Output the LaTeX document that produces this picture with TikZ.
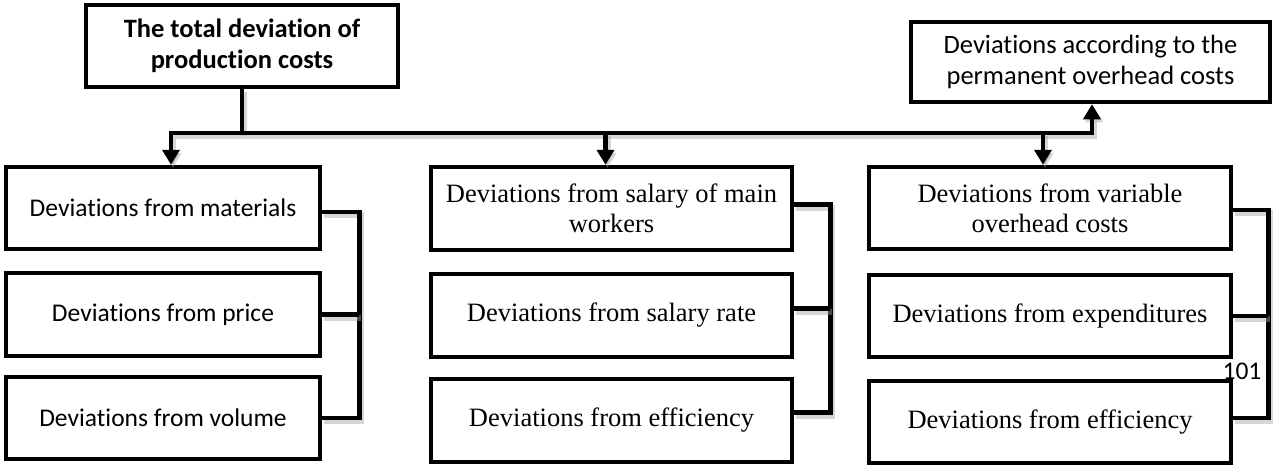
\documentclass[tikz,border=0pt]{standalone}
\usepackage{fontspec}
\newfontfamily\calfont[Ligatures=NoCommon]{Carlito}
\newfontfamily\timesfont[Ligatures=NoCommon]{Liberation Serif}
\usetikzlibrary{arrows.meta}
\begin{document}
\begin{tikzpicture}[x=1pt,y=-1pt,
  box/.style={draw=black, line width=4.5pt, fill=white, align=center, inner sep=0pt},
  calbox/.style={box, font=\calfont\fontsize{25.5}{31}\selectfont},
  tmsbox/.style={box, font=\timesfont\fontsize{26.5}{30}\selectfont},
  conn/.style={line width=4.5pt,
    preaction={draw=black!35, line width=6pt, opacity=0.45,
      transform canvas={shift={(2pt,-3pt)}}}},
  tip/.style={-{Triangle[width=17pt,length=15pt]}},
  tips/.style={{Triangle[width=17pt,length=15pt]}-{Triangle[width=17pt,length=15pt]}},
]
\fill[white] (0,0) rectangle (1274,466);
\useasboundingbox (0,0) rectangle (1274,466);

% head of the chart and the fixed-overhead box
\node[box, font=\calfont\bfseries\fontsize{26.5}{31}\selectfont,
      minimum width=312pt, minimum height=82pt] (total) at (242,46)
      {The total deviation of\\production costs};
\node[calbox, font=\calfont\fontsize{26.5}{31}\selectfont,
      minimum width=359pt, minimum height=80pt] (perm) at (1090.5,62)
      {Deviations according to the\\permanent overhead costs};

% materials column
\node[calbox, minimum width=314pt, minimum height=82pt] (mat)    at (163,208)   {Deviations from materials};
\node[calbox, minimum width=314pt, minimum height=83pt] (price)  at (163,314.5) {Deviations from price};
\node[calbox, minimum width=314pt, minimum height=82pt] (volume) at (163,418)   {Deviations from volume};

% wages column
\node[tmsbox, minimum width=361pt, minimum height=83pt] (salary) at (611.5,208.5) {Deviations from salary of main\\workers};
\node[tmsbox, minimum width=361pt, minimum height=83pt] (rate)   at (611.5,315.5) {Deviations from salary rate};
\node[tmsbox, minimum width=361pt, minimum height=83pt] (effB)   at (611.5,420.5) {Deviations from efficiency};

% variable overhead column
\node[tmsbox, minimum width=362pt, minimum height=82pt] (varoh)  at (1050,208) {Deviations from variable\\overhead costs};
\node[tmsbox, minimum width=362pt, minimum height=82pt] (expend) at (1050,316) {Deviations from expenditures};
\node[tmsbox, minimum width=362pt, minimum height=82pt] (effC)   at (1050,422) {Deviations from efficiency};

\node[font=\calfont\fontsize{25.5}{30}\selectfont, anchor=base, inner sep=0pt] (pageno) at (1242,379) {101};

% distribution bus
\coordinate (busL) at (171,133);
\coordinate (busR) at (1092,133);
\coordinate (sdrop) at ([xshift=-6pt]salary.north);
\coordinate (vdrop) at ([xshift=-7pt]varoh.north);

\draw[conn] (total.south) -- (total.south |- busL);
\draw[conn, tips] (busL |- mat.north) -- (busL) -- (busR) -- (busR |- perm.south);
\draw[conn, tip] (sdrop |- busL) -- (sdrop);
\draw[conn, tip] (vdrop |- busL) -- (vdrop);

% brackets joining each column
\draw[conn] ([yshift=-4pt]mat.east) -- ++(37,0) coordinate (matbr) |- (volume.east);
\draw[conn] (price.east) -- (price.east -| matbr);

\coordinate (ratept) at ([yshift=7pt]rate.east);
\draw[conn] ([yshift=4pt]salary.east) -- ++(36,0) coordinate (salbr) |- ([yshift=8pt]effB.east);
\draw[conn] (ratept) -- (ratept -| salbr);

\draw[conn] ([yshift=-2pt]varoh.east) -- ++(35,0) coordinate (varbr) |- ([yshift=4pt]effC.east);
\draw[conn] (expend.east) -- (expend.east -| varbr);
\end{tikzpicture}
\end{document}
